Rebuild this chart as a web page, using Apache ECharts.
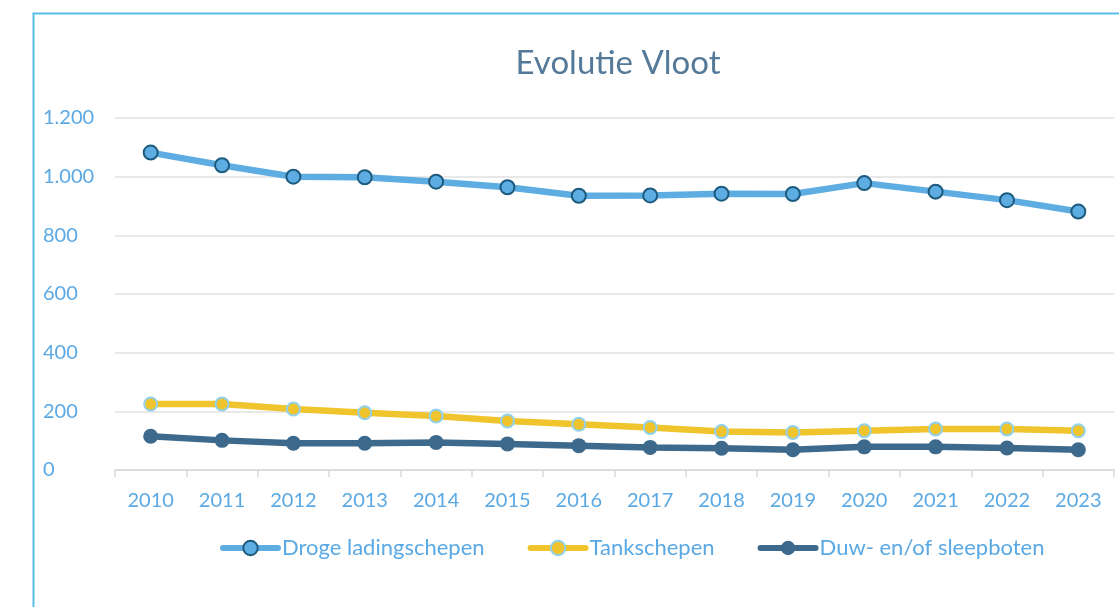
<!DOCTYPE html>
<html>
<head>
<meta charset="utf-8">
<script src="https://cdn.jsdelivr.net/npm/echarts@6/dist/echarts.min.js"></script>
<style>
  html, body { margin: 0; padding: 0; background: #fff; }
  #chart { width: 1119px; height: 607px; }
</style>
</head>
<body>
<div id="chart"></div>
<script>
  const years = ["2010", "2011", "2012", "2013", "2014", "2015", "2016", "2017", "2018", "2019", "2020", "2021", "2022", "2023"];
  const droge = [1082, 1039, 1000, 998, 983, 964, 935, 936, 942, 941, 978, 949, 920, 881];
  const tank = [225, 225, 208, 195, 184, 167, 156, 145, 131, 128, 134, 140, 140, 134];
  const duw = [115, 101, 91, 91, 94, 89, 83, 77, 74, 69, 79, 79, 75, 69];
  const yTicks = [0, 200, 400, 600, 800, 1000, 1200];

  const font = "Lato, 'Open Sans', sans-serif";
  const labelBlue = "#5aa9e4";

  function fmt(v) {
    return String(v).replace(/\B(?=(\d{3})+(?!\d))/g, ".");
  }

  const chart = echarts.init(document.getElementById("chart"), null, { renderer: "canvas" });

  chart.setOption({
    animation: false,
    textStyle: { fontFamily: font },
    title: {
      text: "Evolutie Vloot",
      left: 613,
      textAlign: "center",
      top: 42,
      textStyle: { color: "#557a99", fontSize: 33, fontWeight: "normal", fontFamily: font }
    },
    graphic: [
      {
        type: "rect",
        left: 31,
        top: 11,
        shape: { width: 1200, height: 700 },
        style: { fill: "none", stroke: "#5bbde8", lineWidth: 2 },
        silent: true
      }
    ],
    legend: {
      top: 532,
      left: 215,
      itemWidth: 55,
      itemHeight: 18,
      itemGap: 43,
      lineStyle: { width: 6, cap: "round" },
      textStyle: { color: labelBlue, fontSize: 22, fontFamily: font, padding: [0, 0, 0, -1] },
      data: ["Droge ladingschepen", "Tankschepen", "Duw- en/of sleepboten"]
    },
    grid: { left: 115, right: 5, top: 118, bottom: 137, containLabel: false },
    xAxis: {
      type: "category",
      data: years,
      boundaryGap: true,
      axisLine: { lineStyle: { color: "#d9d9d9", width: 1.5 } },
      axisTick: { show: true, length: 7, lineStyle: { color: "#d9d9d9", width: 1.5 } },
      axisLabel: { color: labelBlue, fontSize: 20, margin: 21, fontFamily: font }
    },
    yAxis: {
      type: "value",
      min: 0,
      max: yTicks[yTicks.length - 1],
      interval: yTicks[1] - yTicks[0],
      axisLine: { show: false },
      axisTick: { show: false },
      splitLine: { lineStyle: { color: "#e0e0e0", width: 1.5 } },
      axisLabel: {
        color: labelBlue,
        fontSize: 20,
        align: "left",
        margin: 72,
        fontFamily: font,
        formatter: fmt
      }
    },
    series: [
      {
        name: "Droge ladingschepen",
        type: "line",
        data: droge,
        symbol: "circle",
        symbolSize: 14,
        lineStyle: { color: "#5dade2", width: 6.5 },
        itemStyle: { color: "#5dade2", borderColor: "#1d5a7e", borderWidth: 2 }
      },
      {
        name: "Tankschepen",
        type: "line",
        data: tank,
        symbol: "circle",
        symbolSize: 13,
        lineStyle: { color: "#f0c42c", width: 6.5 },
        itemStyle: { color: "#f0c42c", borderColor: "#8fd1ef", borderWidth: 2 }
      },
      {
        name: "Duw- en/of sleepboten",
        type: "line",
        data: duw,
        symbol: "circle",
        symbolSize: 15,
        lineStyle: { color: "#3d6a8c", width: 6.5 },
        itemStyle: { color: "#3d6a8c", borderWidth: 0 }
      }
    ]
  });
</script>
</body>
</html>
